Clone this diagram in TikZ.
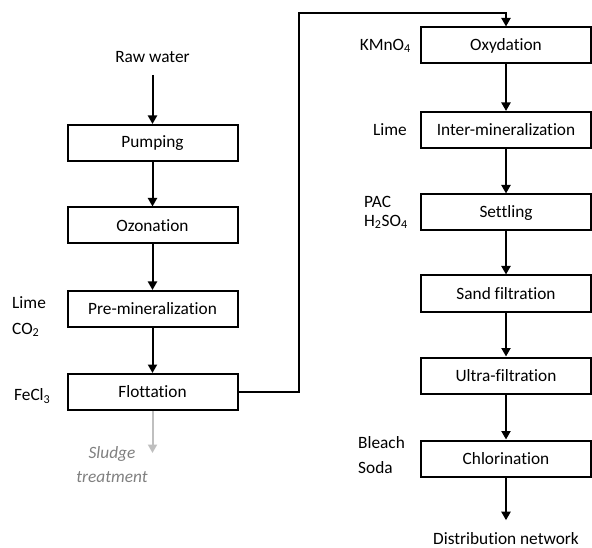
\documentclass[tikz,border=0pt]{standalone}
\usepackage{fontspec}
\setmainfont{Carlito}[Ligatures=NoCommon]
\usetikzlibrary{arrows.meta}
\definecolor{sludgearrow}{HTML}{BFBFBF}
\definecolor{sludgetext}{HTML}{808080}
\tikzset{
  box/.style={draw, line width=2pt, minimum width=170pt, minimum height=36pt, inner sep=0pt, font=\fontsize{17.3}{20}\selectfont},
  lbl/.style={inner sep=0pt, font=\fontsize{17.3}{20}\selectfont},
  arr/.style={line width=2pt, -{Triangle[width=9pt,length=8.5pt]}},
}
\begin{document}
\begin{tikzpicture}[x=1pt,y=-1pt]
\useasboundingbox (0,0) rectangle (592,548);
% left column
\node[lbl] (raw) at (152.5,57) {Raw water};
\node[box] (pump) at (152.5,143) {Pumping};
\node[box] (ozo) at (152.5,225.5) {Ozonation};
\node[box] (pre) at (152.5,309) {Pre-mineralization};
\node[box] (flot) at (152.5,392) {Flottation};
\node[lbl, anchor=west] (lime1) at (12,303) {Lime};
\node[lbl, anchor=west] (co2) at (12,330) {CO\textsubscript{2}};
\node[lbl, anchor=west] (fecl) at (14,396) {FeCl\textsubscript{3}};
\node[lbl, text=sludgetext, align=center, font=\fontsize{17.3}{24}\selectfont\itshape] (sludge) at (112,465) {Sludge\\treatment};
\coordinate (sl) at (152.5,453);
% right column
\node[box] (oxy) at (506,45.5) {Oxydation};
\node[box] (inter) at (506,130) {Inter-mineralization};
\node[box] (sett) at (506,212.5) {Settling};
\node[box] (sand) at (506,293.5) {Sand filtration};
\node[box] (ultra) at (506,375.5) {Ultra-filtration};
\node[box] (chlor) at (506,458.5) {Chlorination};
\node[lbl] (dist) at (506,538.5) {Distribution network};
\node[lbl, anchor=east] (kmn) at (411,46) {KMnO\textsubscript{4}};
\node[lbl, anchor=east] (lime2) at (407,130) {Lime};
\node[lbl, anchor=west] (pac) at (364,202) {PAC};
\node[lbl, anchor=west] (h2so4) at (364,222) {H\textsubscript{2}SO\textsubscript{4}};
\node[lbl, anchor=west] (bleach) at (358,443) {Bleach};
\node[lbl, anchor=west] (soda) at (358,468) {Soda};
\coordinate (c1) at (299,13);
% connectors
\draw[arr, shorten <=12pt] (raw.south) -- (pump.north);
\draw[arr] (pump.south) -- (ozo.north);
\draw[arr] (ozo.south) -- (pre.north);
\draw[arr] (pre.south) -- (flot.north);
\draw[arr, sludgearrow] (flot.south) -- (sl);
\draw[arr] (flot.east) -| (c1) -| (oxy.north);
\draw[arr] (oxy.south) -- (inter.north);
\draw[arr] (inter.south) -- (sett.north);
\draw[arr] (sett.south) -- (sand.north);
\draw[arr] (sand.south) -- (ultra.north);
\draw[arr] (ultra.south) -- (chlor.north);
\draw[arr, shorten >=12pt] (chlor.south) -- (dist.north);
\end{tikzpicture}
\end{document}
